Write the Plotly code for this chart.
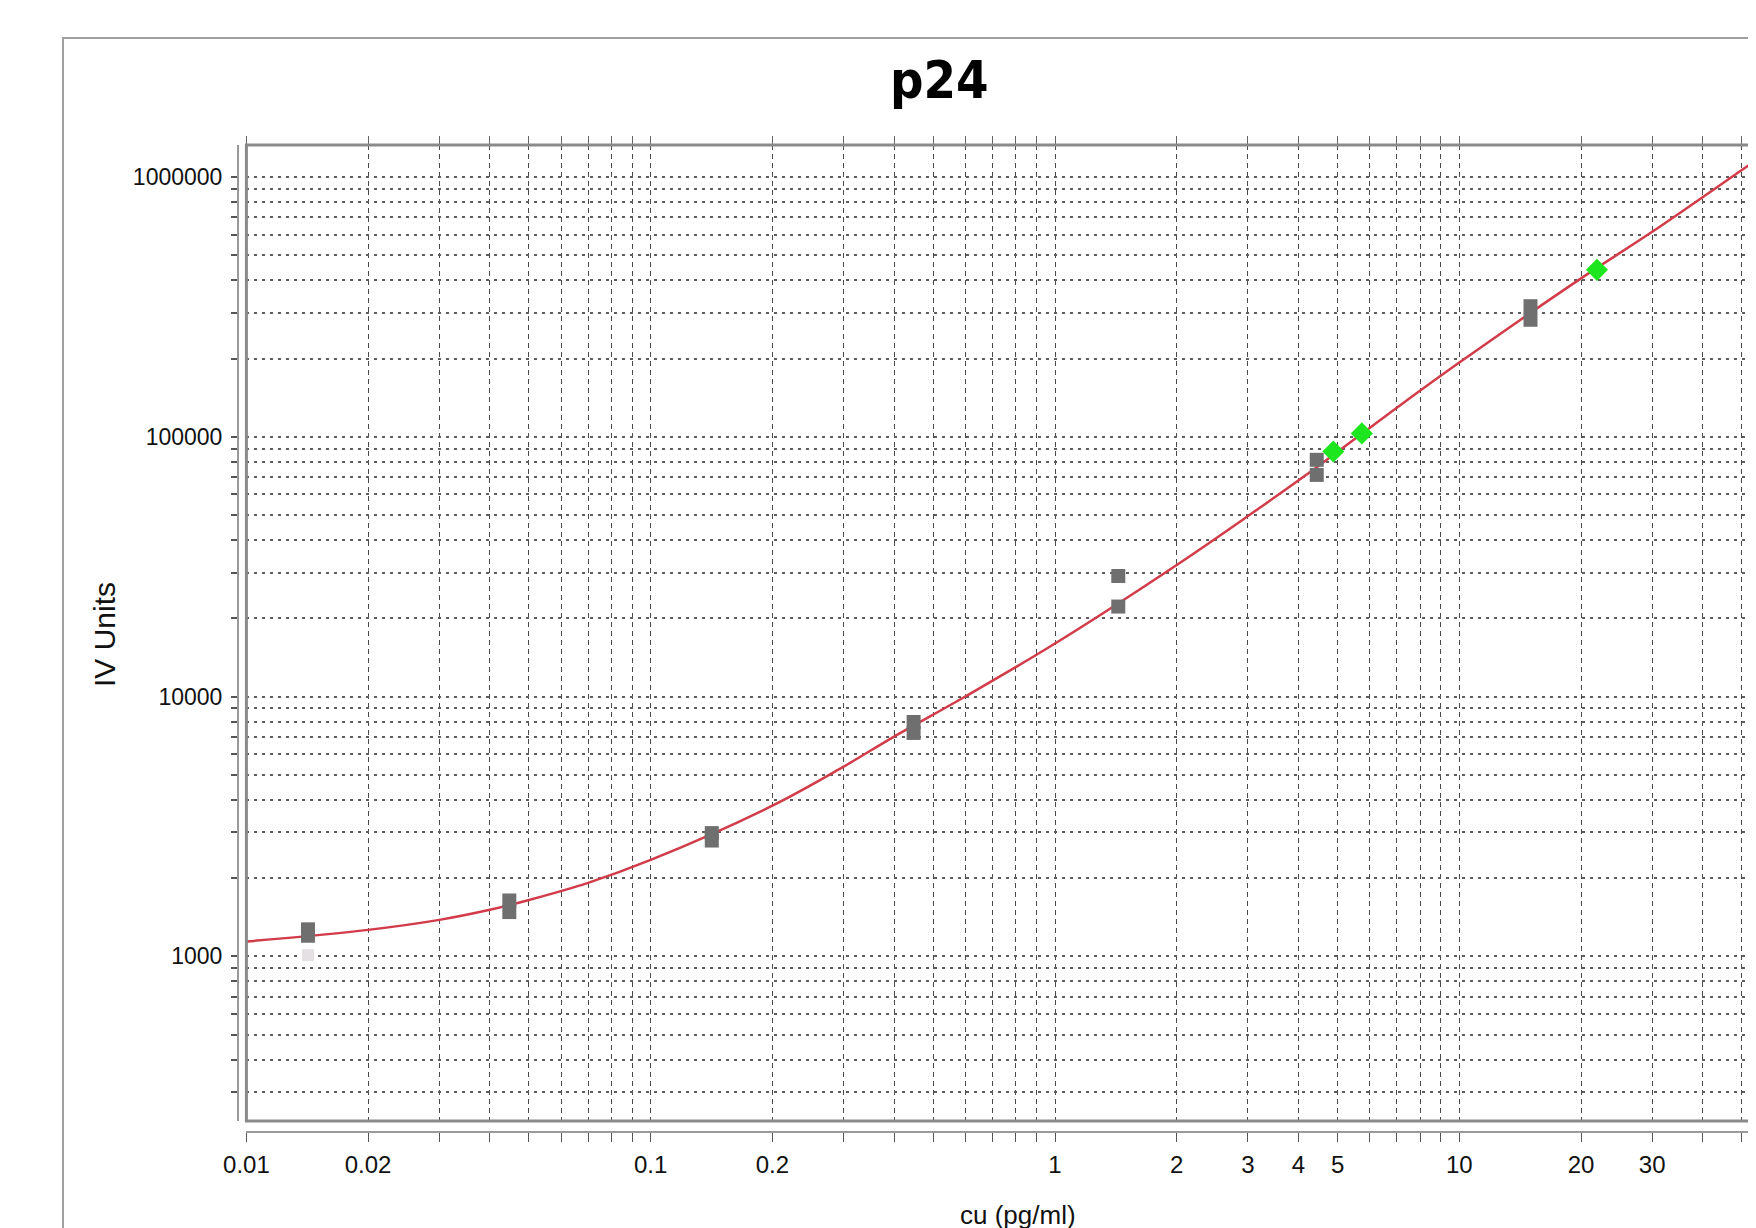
import plotly.graph_objects as go

# ---------------- data ----------------
x_tick_vals = [0.01, 0.02, 0.03, 0.04, 0.05, 0.06, 0.07, 0.08, 0.09,
               0.1, 0.2, 0.3, 0.4, 0.5, 0.6, 0.7, 0.8, 0.9,
               1, 2, 3, 4, 5, 6, 7, 8, 9,
               10, 20, 30, 40, 50]
x_tick_text = ["0.01", "0.02", "", "", "", "", "", "", "",
               "0.1", "0.2", "", "", "", "", "", "", "",
               "1", "2", "3", "4", "5", "", "", "", "",
               "10", "20", "30", "", ""]
y_tick_vals = [300, 400, 500, 600, 700, 800, 900,
               1000, 2000, 3000, 4000, 5000, 6000, 7000, 8000, 9000,
               10000, 20000, 30000, 40000, 50000, 60000, 70000, 80000, 90000,
               100000, 200000, 300000, 400000, 500000, 600000, 700000, 800000, 900000,
               1000000]
y_tick_text = ["", "", "", "", "", "", "",
               "1000", "", "", "", "", "", "", "", "",
               "10000", "", "", "", "", "", "", "", "",
               "100000", "", "", "", "", "", "", "", "",
               "1000000"]

curve_x = [0.01, 0.02, 0.03, 0.04, 0.05, 0.07, 0.1, 0.2, 0.3, 0.4, 0.6,
           1, 2, 3, 4.44, 7.13, 10, 20, 30, 50, 56.0]
curve_y = [1140, 1264, 1381, 1510, 1648, 1918, 2350, 3800, 5370, 7010, 10000,
           16000, 32100, 49500, 76300, 132000, 193000, 407000, 615000, 1064000, 1200000]

std_x = [0.0142, 0.0142, 0.0447, 0.0447, 0.1416, 0.1416, 0.447, 0.447,
         1.434, 1.434, 4.44, 4.44, 15.0, 15.0]
std_y = [1270, 1200, 1640, 1480, 2980, 2790, 7980, 7240,
         29100, 22200, 81500, 71300, 318000, 282000]

faint_x = [0.0142]
faint_y = [1010]

unk_x = [4.88, 5.74, 21.9]
unk_y = [87700, 103000, 439000]

# ---------------- geometry helpers (page pixels -> paper) ----------------
OFF = 8  # page body margin
W, H = 1756, 1228
ML, MR, MT, MB = 230, 0, 122, 104
PW = W - ML - MR
PH = H - MT - MB


def px(X):
    return (X - OFF - ML) / PW


def py(Y):
    return (H - MB - (Y - OFF)) / PH


FONT = "Liberation Sans, Arial, sans-serif"

fig = go.Figure()

fig.add_trace(go.Scatter(x=curve_x, y=curve_y, mode="lines",
                         line=dict(color="#d23c4a", width=2.5, shape="spline", smoothing=1.0),
                         hoverinfo="skip", showlegend=False))
fig.add_trace(go.Scatter(x=faint_x, y=faint_y, mode="markers",
                         marker=dict(symbol="square", size=12, color="#e4e0e4"),
                         showlegend=False))
fig.add_trace(go.Scatter(x=std_x, y=std_y, mode="markers",
                         marker=dict(symbol="square", size=14, color="#6f6f6f"),
                         showlegend=False))
fig.add_trace(go.Scatter(x=unk_x, y=unk_y, mode="markers",
                         marker=dict(symbol="diamond", size=17, color="#1ee61e"),
                         showlegend=False))
# invisible trace for the top mirrored tick axis
fig.add_trace(go.Scatter(x=[curve_x[0]], y=[curve_y[0]], xaxis="x2", mode="markers",
                         marker=dict(opacity=0), hoverinfo="skip", showlegend=False))

x0_dom = px(246.4)
y_dom = [py(1121), py(145)]
x_end = -2 + (W + OFF - 246.4) / 404.3

fig.update_layout(
    width=W, height=H,
    margin=dict(l=ML, r=MR, t=MT, b=MB),
    paper_bgcolor="white", plot_bgcolor="white",
    font=dict(family=FONT, color="#111111"),
    showlegend=False,
    xaxis=dict(
        type="log", range=[-2, x_end], domain=[x0_dom, 1],
        anchor="free", position=0,
        tickvals=x_tick_vals, ticktext=x_tick_text,
        tickfont=dict(size=24, color="#111111"),
        ticks="outside", ticklen=9, tickwidth=1, tickcolor="#555555",
        ticklabelstandoff=2,
        showline=True, linecolor="#9a9a9a", linewidth=2,
        showgrid=True, gridcolor="#4a4a4a", gridwidth=1, griddash="5px,4px",
        zeroline=False,
    ),
    xaxis2=dict(
        type="log", range=[-2, x_end], domain=[x0_dom, 1],
        overlaying="x", side="top", anchor="y",
        tickvals=x_tick_vals, showticklabels=False,
        ticks="outside", ticklen=8, tickwidth=1, tickcolor="#666666",
        showgrid=False, showline=False, zeroline=False,
    ),
    yaxis=dict(
        type="log", range=[2.366, 6.123], domain=y_dom,
        anchor="free", position=0,
        tickvals=y_tick_vals, ticktext=y_tick_text,
        tickfont=dict(size=23, color="#111111"),
        ticks="outside", ticklen=6, tickwidth=2, tickcolor="#555555",
        ticklabelstandoff=4,
        showline=True, linecolor="#9a9a9a", linewidth=2,
        showgrid=True, gridcolor="#5e5e5e", gridwidth=2, griddash="3px,5px",
        zeroline=False,
    ),
    shapes=[
        # plot area frame
        dict(type="rect", xref="x domain", yref="y domain", x0=0, x1=1.01, y0=0, y1=1,
             line=dict(color="#8a8a8a", width=3), layer="above"),
        # outer chart frame (extends past the cropped edges)
        dict(type="rect", xref="paper", yref="paper",
             x0=px(63), x1=1.2, y0=-0.3, y1=py(38),
             line=dict(color="#a0a0a0", width=2), layer="below"),
    ],
    annotations=[
        dict(text="<b>p24</b>", xref="paper", yref="paper", x=px(939), y=py(80),
             xanchor="center", yanchor="middle", showarrow=False,
             font=dict(family="DejaVu Sans Condensed, Liberation Sans Narrow, Liberation Sans, Arial",
                       size=52, color="#000000")),
        dict(text="IV Units", xref="paper", yref="paper", x=px(104), y=py(635),
             xanchor="center", yanchor="middle", textangle=-90, showarrow=False,
             font=dict(size=30, color="#111111")),
        dict(text="cu (pg/ml)", xref="paper", yref="paper", x=px(1018), y=py(1198),
             xanchor="center", yanchor="top", showarrow=False,
             font=dict(size=26, color="#111111")),
    ],
)

fig.write_html("out.html")
